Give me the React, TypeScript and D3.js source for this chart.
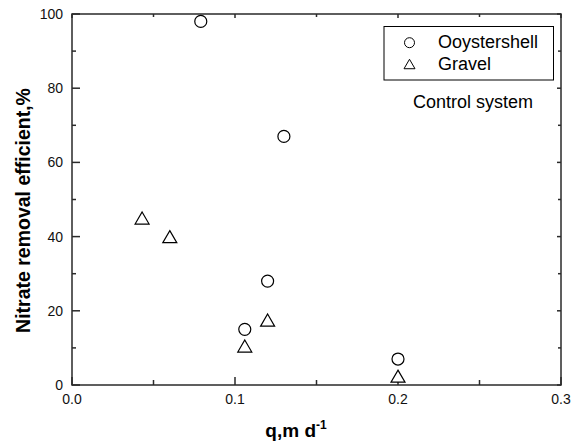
import React from "react";
import * as d3 from "d3";

// Nitrate removal efficiency versus hydraulic loading rate q (m/d)
const oysterQ = [0.079, 0.13, 0.106, 0.12, 0.2];
const oysterEff = [98, 67, 15, 28, 7];
const gravelQ = [0.043, 0.06, 0.106, 0.12, 0.2];
const gravelEff = [45, 40, 10.5, 17.5, 2.4];

const xMajor = [0, 0.1, 0.2, 0.3];
const xMinor = [0.05, 0.15, 0.25];
const yMajor = [0, 20, 40, 60, 80, 100];
const yMinor = [10, 30, 50, 70, 90];

const seriesNames = ["Ooystershell", "Gravel"];

const W = 588;
const H = 448;
const plot = { left: 72, right: 561, top: 14, bottom: 385 };

const triPath = (s: number) => `M0,${-s * 0.86}L${s},${s * 0.86}L${-s},${s * 0.86}Z`;

export default function App() {
  const x = d3.scaleLinear().domain([0, 0.3]).range([plot.left, plot.right]);
  const y = d3.scaleLinear().domain([0, 100]).range([plot.bottom, plot.top]);
  const axisColor = "#2a2a2a";
  const font = "'Liberation Sans', Arial, sans-serif";

  return (
    <svg width={W} height={H} style={{ position: "absolute", left: 0, top: 0 }} fontFamily={font}>
      <rect width={W} height={H} fill="#fff" />
      {/* frame */}
      <rect
        x={plot.left}
        y={plot.top}
        width={plot.right - plot.left}
        height={plot.bottom - plot.top}
        fill="none"
        stroke={axisColor}
        strokeWidth={1.5}
      />
      {/* x ticks, bottom and top */}
      {xMajor.map((v) => (
        <g key={"xm" + v}>
          <line x1={x(v)} x2={x(v)} y1={plot.bottom} y2={plot.bottom - 8} stroke={axisColor} strokeWidth={1.5} />
          <line x1={x(v)} x2={x(v)} y1={plot.top} y2={plot.top + 4} stroke={axisColor} strokeWidth={1.5} />
          <text x={x(v)} y={404} fontSize={14} textAnchor="middle" fill="#111">
            {d3.format(".1f")(v)}
          </text>
        </g>
      ))}
      {xMinor.map((v) => (
        <g key={"xn" + v}>
          <line x1={x(v)} x2={x(v)} y1={plot.bottom} y2={plot.bottom - 5} stroke={axisColor} strokeWidth={1.5} />
          <line x1={x(v)} x2={x(v)} y1={plot.top} y2={plot.top + 3} stroke={axisColor} strokeWidth={1.5} />
        </g>
      ))}
      {/* y ticks, left and right */}
      {yMajor.map((v) => (
        <g key={"ym" + v}>
          <line x1={plot.left} x2={plot.left + 8} y1={y(v)} y2={y(v)} stroke={axisColor} strokeWidth={1.5} />
          <line x1={plot.right} x2={plot.right - 4} y1={y(v)} y2={y(v)} stroke={axisColor} strokeWidth={1.5} />
          <text x={63} y={y(v) + 5} fontSize={14} textAnchor="end" fill="#111">
            {v}
          </text>
        </g>
      ))}
      {yMinor.map((v) => (
        <g key={"yn" + v}>
          <line x1={plot.left} x2={plot.left + 4} y1={y(v)} y2={y(v)} stroke={axisColor} strokeWidth={1.5} />
          <line x1={plot.right} x2={plot.right - 3} y1={y(v)} y2={y(v)} stroke={axisColor} strokeWidth={1.5} />
        </g>
      ))}
      {/* axis titles */}
      <text x={296} y={437} fontSize={19} fontWeight="bold" textAnchor="middle" fill="#000">
        q,m d<tspan fontSize={12} dy={-8}>-1</tspan>
      </text>
      <text
        transform={`translate(30,210.5) rotate(-90)`}
        fontSize={19.5}
        fontWeight="bold"
        textAnchor="middle"
        fill="#000"
      >
        Nitrate removal efficient,%
      </text>
      {/* data */}
      {oysterQ.map((q, i) => (
        <circle key={"o" + i} cx={x(q)} cy={y(oysterEff[i])} r={6} fill="#fff" stroke="#000" strokeWidth={1.2} />
      ))}
      {gravelQ.map((q, i) => (
        <path
          key={"g" + i}
          d={triPath(7)}
          transform={`translate(${x(q)},${y(gravelEff[i])})`}
          fill="#fff"
          stroke="#000"
          strokeWidth={1.2}
        />
      ))}
      {/* legend */}
      <rect x={384} y={26.5} width={169.5} height={53.5} fill="#fff" stroke="#000" strokeWidth={1} />
      <circle cx={409.5} cy={42.7} r={5} fill="none" stroke="#000" strokeWidth={1} />
      <path d={triPath(5.5)} transform="translate(409.5,64)" fill="none" stroke="#000" strokeWidth={1} />
      <text x={438} y={48.3} fontSize={18} fill="#000">
        {seriesNames[0]}
      </text>
      <text x={438} y={70} fontSize={18} fill="#000">
        {seriesNames[1]}
      </text>
      <text x={413} y={108} fontSize={18} fill="#000">
        Control system
      </text>
    </svg>
  );
}
